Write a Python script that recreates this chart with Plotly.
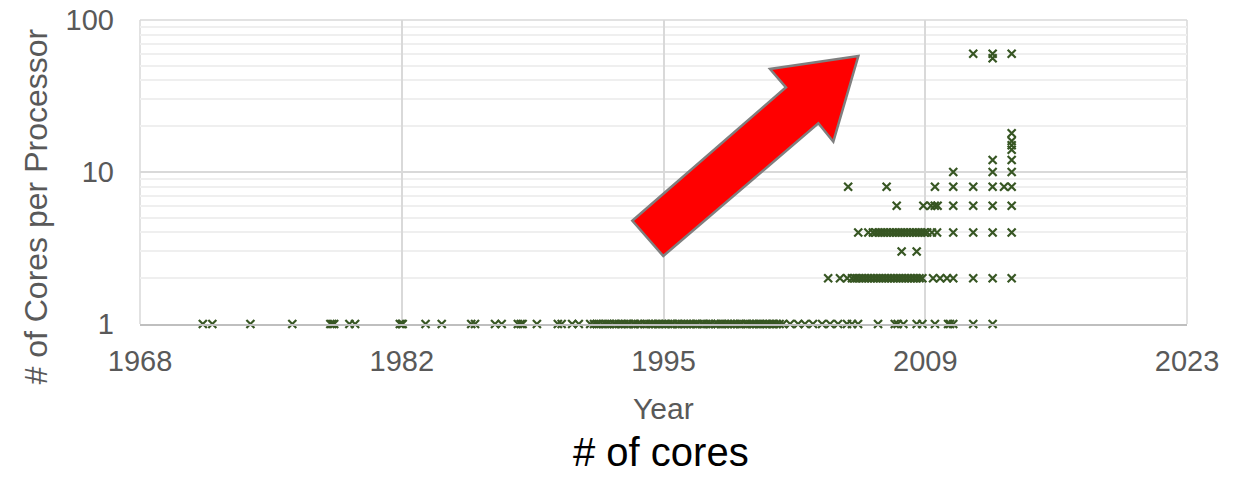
import plotly.graph_objects as go

# ---- data (release year of processors, grouped by # of cores) ----
years_1 = [1971.3, 1971.8, 1973.8, 1976.0, 1978.0, 1978.1, 1978.2, 1979.0, 1979.3,
           1981.65, 1981.75, 1981.8, 1983.0, 1983.85, 1985.4, 1985.6, 1986.65, 1987.0,
           1987.85, 1988.0, 1988.1, 1988.85, 1989.95, 1990.15, 1990.7, 1991.05, 1991.65,
           1991.85, 1992.0, 1992.1, 1992.3, 1992.45, 1992.55, 1992.7, 1992.9, 1993.0,
           1993.15, 1993.3, 1993.45, 1993.6, 1993.7, 1993.9, 1994.0, 1994.15, 1994.3,
           1994.5, 1994.6, 1994.75, 1994.9, 1995.05, 1995.2, 1995.3, 1995.45, 1995.6,
           1995.75, 1995.9, 1996.0, 1996.2, 1996.3, 1996.45, 1996.6, 1996.75, 1996.9,
           1997.05, 1997.2, 1997.3, 1997.5, 1997.6, 1997.75, 1997.9, 1998.0, 1998.2,
           1998.35, 1998.5, 1998.6, 1998.75, 1998.9, 1999.05, 1999.2, 1999.35, 1999.5,
           1999.6, 1999.8, 1999.9, 2000.05, 2000.2, 2000.35, 2000.5, 2000.6, 2000.75,
           2000.9, 2001.05, 2001.2, 2001.3, 2001.45, 2001.6,
           2001.78, 2002.15, 2002.57, 2002.93, 2003.35, 2003.83, 2004.25, 2004.67,
           2005.14, 2005.4, 2005.72, 2006.77, 2007.65, 2007.8, 2008.1, 2008.8, 2009.1,
           2009.76, 2010.45, 2010.55, 2010.72, 2011.77, 2012.79]
years_2 = [2004.15, 2004.77, 2005.15, 2005.4, 2005.55, 2005.65, 2005.8, 2005.95,
           2006.1, 2006.25, 2006.4, 2006.55, 2006.7, 2006.85, 2007.0, 2007.15, 2007.3,
           2007.45, 2007.6, 2007.75, 2007.9, 2008.05, 2008.2, 2008.35, 2008.5, 2008.65,
           2008.8, 2008.95, 2009.1, 2009.66, 2010.03, 2010.39, 2010.72, 2011.77,
           2012.79, 2013.79]
years_3 = [2008.01, 2008.8]
years_4 = [2005.73, 2006.26, 2006.5, 2006.65, 2006.8, 2006.95, 2007.1, 2007.25,
           2007.4, 2007.55, 2007.7, 2007.85, 2008.0, 2008.15, 2008.3, 2008.45, 2008.6,
           2008.75, 2008.9, 2009.05, 2009.2, 2009.35, 2009.6, 2009.87, 2010.72,
           2011.77, 2012.79, 2013.79]
years_6 = [2007.75, 2009.15, 2009.55, 2009.75, 2009.9, 2010.72, 2011.77, 2012.79, 2013.79]
years_8 = [2005.2, 2007.22, 2009.76, 2010.72, 2011.77, 2012.79, 2013.39, 2013.79]
years_10 = [2010.72, 2012.79, 2013.79]
years_12 = [2012.79, 2013.79]
years_14 = [2013.79]
years_15 = [2013.79]
years_16 = [2013.79]
years_18 = [2013.79]
years_56 = [2012.79]
years_60 = [2011.77, 2012.79, 2013.79]

groups = [(1, years_1), (2, years_2), (3, years_3), (4, years_4), (6, years_6),
          (8, years_8), (10, years_10), (12, years_12), (14, years_14),
          (15, years_15), (16, years_16), (18, years_18), (56, years_56),
          (60, years_60)]

x_ticks = [1968, 1981.75, 1995.5, 2009.25, 2023]
x_tick_text = ["1968", "1982", "1995", "2009", "2023"]
y_ticks = [1, 10, 100]
y_tick_text = ["1", "10", "100"]
y_minor = [2, 3, 4, 5, 6, 7, 8, 9, 20, 30, 40, 50, 60, 70, 80, 90]

xs, ys = [], []
for cores, yrs in groups:
    for yr in yrs:
        xs.append(yr)
        ys.append(cores)

FONT = "Liberation Sans, Arial, sans-serif"
GREY = "#595959"
GRID = "#d9d9d9"

W, H = 1243, 478
# plot area in page pixels
L, R, T, B = 140, 1187, 20, 324

fig = go.Figure()
fig.add_trace(go.Scatter(
    x=xs, y=ys, mode="markers", cliponaxis=False,
    marker=dict(symbol="x-thin", size=8, color="#375623",
                line=dict(color="#375623", width=2.2)),
    showlegend=False))

# border gridlines (plotly drops gridlines lying on the plot edges)
for x0, y0, x1, y1 in [(0, 0, 0, 1), (1, 0, 1, 1), (0, 1, 1, 1)]:
    fig.add_shape(type="line", xref="paper", yref="paper", x0=x0, y0=y0, x1=x1, y1=y1,
                  line=dict(color=GRID, width=1.5), layer="below")

def P(px, py):
    return (px - L) / (R - L), (B - py) / (B - T)

arrow_px = [(632.3, 220.7), (786, 87.3), (770, 69), (858.3, 56),
            (833.3, 141.7), (818.3, 123.3), (663.3, 256)]
pts = [P(a, b) for a, b in arrow_px]
path = "M " + " L ".join(f"{a:.4f},{b:.4f}" for a, b in pts) + " Z"
fig.add_shape(type="path", path=path, xref="paper", yref="paper",
              fillcolor="#ff0000", line=dict(color="#7f7f7f", width=2.5),
              layer="above")

fig.update_layout(
    width=W, height=H,
    margin=dict(l=L, r=W - R, t=T, b=H - B, autoexpand=False),
    paper_bgcolor="white", plot_bgcolor="white",
    font=dict(family=FONT, color=GREY, size=29),
    xaxis=dict(range=[1968, 2023], tickvals=x_ticks, ticktext=x_tick_text,
               showgrid=True, gridcolor=GRID, gridwidth=1.5,
               showline=True, linecolor="#bfbfbf", linewidth=1.5,
               zeroline=False, ticks="", ticklabelstandoff=10, automargin=False,
               ticklabeloverflow="allow",
               tickfont=dict(size=29, color=GREY, family=FONT)),
    yaxis=dict(type="log", range=[0, 2], tickvals=y_ticks, ticktext=y_tick_text,
               showgrid=True, gridcolor=GRID, gridwidth=1.5,
               showline=False, zeroline=False, ticks="", ticklabelstandoff=25,
               automargin=False, ticklabeloverflow="allow",
               tickfont=dict(size=29, color=GREY, family=FONT),
               minor=dict(tickvals=y_minor, showgrid=True, gridcolor="#efefef",
                          gridwidth=1.5, ticks="")),
    annotations=[
        dict(text="Year", xref="paper", yref="paper", x=0.5, y=(B - 408) / (B - T),
             xanchor="center", yanchor="middle", showarrow=False,
             font=dict(size=30, color=GREY, family=FONT)),
        dict(text="# of cores", xref="paper", yref="paper",
             x=(661 - L) / (R - L), y=(B - 452) / (B - T),
             xanchor="center", yanchor="middle", showarrow=False,
             font=dict(size=40, color="black", family=FONT)),
        dict(text="# of Cores per Processor", xref="paper", yref="paper",
             x=(35 - L) / (R - L), y=(B - 206.5) / (B - T), textangle=-90,
             xanchor="center", yanchor="middle", showarrow=False,
             font=dict(size=32, color=GREY, family=FONT)),
    ],
)

# remove the browser's default 8px body margin so the figure sits at (0, 0)
fig.write_html("out.html",
               config={"displayModeBar": False},
               post_script="document.body.style.margin='0';"
                           "document.body.style.overflow='hidden';")
